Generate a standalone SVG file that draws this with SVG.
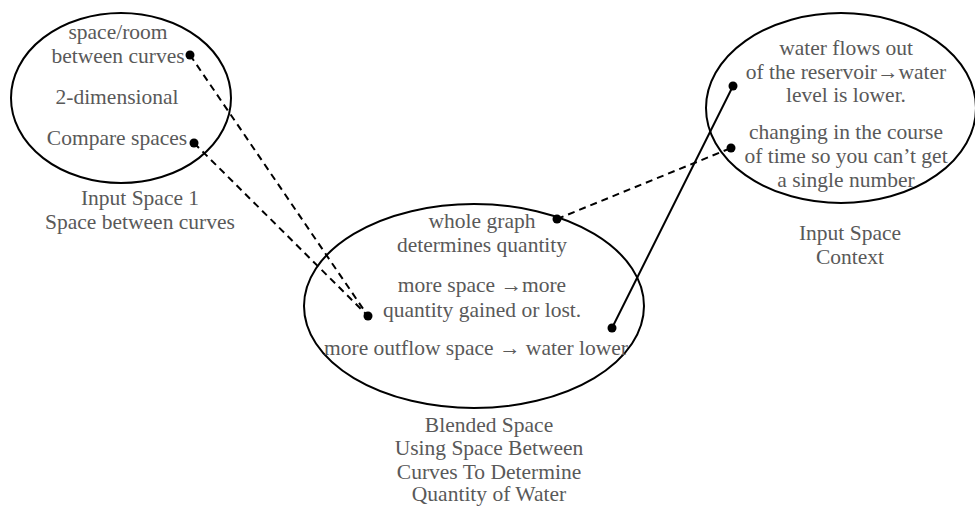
<svg xmlns="http://www.w3.org/2000/svg" width="975" height="506" viewBox="0 0 975 506">
<style>
.bg{fill:#ffffff}
.ell{fill:none;stroke:#000;stroke-width:2}
.t{font-family:"Liberation Serif","Times New Roman",serif;font-size:21.5px;fill:#595959;text-anchor:middle}
.dash{stroke:#000;stroke-width:2;stroke-dasharray:7 5;fill:none}
.solid{stroke:#000;stroke-width:2;fill:none}
.dot{fill:#000}
</style>
<rect class="bg" x="0" y="0" width="975" height="506"/>
<g id="input1">
<ellipse class="ell" cx="121" cy="98" rx="110" ry="85"/>
<text class="t" x="118" y="39">space/room</text>
<text class="t" x="118" y="63">between curves</text>
<text class="t" x="117" y="104">2-dimensional</text>
<text class="t" x="117" y="145">Compare spaces</text>
<text class="t" x="140" y="205">Input Space 1</text>
<text class="t" x="140" y="229">Space between curves</text>
</g>
<g id="context">
<ellipse class="ell" cx="841" cy="108" rx="135" ry="95"/>
<text class="t" x="846" y="55">water flows out</text>
<text class="t" x="846" y="79">of the reservoir→water</text>
<text class="t" x="846" y="102">level is lower.</text>
<text class="t" x="846" y="139">changing in the course</text>
<text class="t" x="846" y="163">of time so you can’t get</text>
<text class="t" x="846" y="187">a single number</text>
<text class="t" x="850" y="240">Input Space</text>
<text class="t" x="850" y="264">Context</text>
</g>
<g id="blended">
<ellipse class="ell" cx="474" cy="306" rx="170" ry="102"/>
<text class="t" x="482" y="228">whole graph</text>
<text class="t" x="482" y="252">determines quantity</text>
<text class="t" x="482" y="292">more space →more</text>
<text class="t" x="482" y="317">quantity gained or lost.</text>
<text class="t" x="476" y="355">more outflow space → water lower</text>
<text class="t" x="489" y="432">Blended Space</text>
<text class="t" x="489" y="455">Using Space Between</text>
<text class="t" x="489" y="479">Curves To Determine</text>
<text class="t" x="489" y="501">Quantity of Water</text>
</g>
<g id="connectors">
<line class="dash" x1="190" y1="55" x2="368" y2="316"/>
<line class="dash" x1="194" y1="143" x2="368" y2="316"/>
<line class="dash" x1="557" y1="219" x2="731" y2="148"/>
<line class="solid" x1="612" y1="328" x2="733" y2="86"/>
<circle class="dot" cx="190" cy="55" r="4.5"/>
<circle class="dot" cx="194" cy="143" r="4.5"/>
<circle class="dot" cx="368" cy="316" r="4.5"/>
<circle class="dot" cx="557" cy="219" r="4.5"/>
<circle class="dot" cx="731" cy="148" r="4.5"/>
<circle class="dot" cx="733" cy="86" r="4.5"/>
<circle class="dot" cx="612" cy="328" r="4.5"/>
</g>
</svg>
